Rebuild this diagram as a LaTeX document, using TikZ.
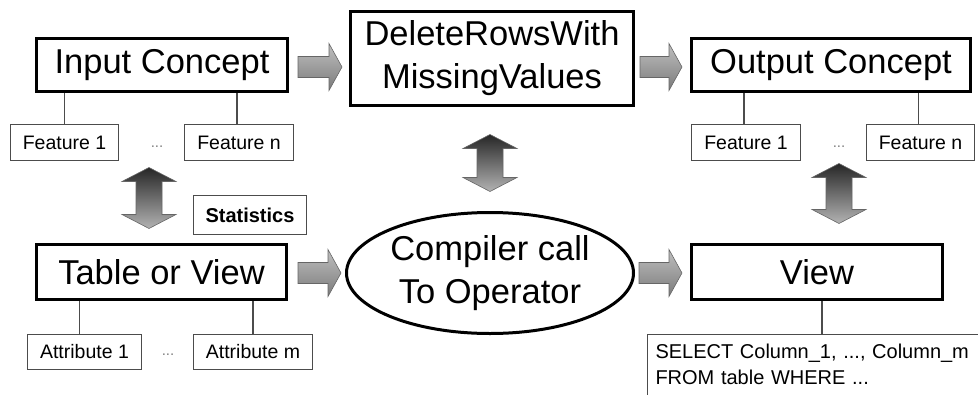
\documentclass[tikz,border=0pt]{standalone}
\usepackage{fontspec}
\setmainfont{Liberation Sans}
\usetikzlibrary{calc,shapes.geometric}

% grey block arrows, built between two points taken from the nodes
\newcommand{\hblock}[2]{%
  \path[hshade] let \p1=#1, \p2=#2 in
    (\x1,\y1+10.5pt) -- (\x2-13pt,\y1+10.5pt) -- (\x2-13pt,\y1+23.5pt) -- (\x2,\y1)
    -- (\x2-13pt,\y1-23.5pt) -- (\x2-13pt,\y1-10.5pt) -- (\x1,\y1-10.5pt) -- cycle;}
\newcommand{\vblock}[2]{%
  \path[vshade] let \p1=#1, \p2=#2 in
    (\x1,\y1) -- (\x1+27pt,\y1-14pt) -- (\x1+13pt,\y1-14pt) -- (\x1+13pt,\y2+14pt)
    -- (\x1+27pt,\y2+14pt) -- (\x1,\y2) -- (\x1-27pt,\y2+14pt) -- (\x1-13pt,\y2+14pt)
    -- (\x1-13pt,\y1-14pt) -- (\x1-27pt,\y1-14pt) -- cycle;}

\begin{document}
\begin{tikzpicture}[x=1pt,y=-1pt,line join=miter,
  bigbox/.style={draw,line width=3pt,inner sep=0pt,align=center,
    font=\fontsize{34.5}{43}\selectfont},
  smallbox/.style={draw=black!70,line width=1pt,inner sep=0pt,minimum height=36,
    font=\fontsize{19.5}{24}\selectfont},
  dots/.style={text=black!50,inner sep=0pt,font=\fontsize{15}{18}\selectfont},
  link/.style={draw=black!70,line width=1.2pt},
  hshade/.style={draw=black!60,line width=0.6pt,top color=black!25,bottom color=black!52},
  vshade/.style={draw=black!60,line width=0.6pt,top color=black!85,bottom color=black!30}]
\useasboundingbox (0,0) rectangle (978,394);
\clip (0,0) rectangle (978,394);

% main boxes
\node[bigbox,minimum width=251,minimum height=53] (inc) at (162,65) {Input Concept};
\node[bigbox,minimum width=283,minimum height=94] (del) at (492,58.5) {DeleteRowsWith\\MissingValues};
\node[bigbox,minimum width=279,minimum height=53] (outc) at (831,65) {Output Concept};
\node[bigbox,minimum width=250,minimum height=55] (tab) at (161.5,272) {Table or View};
\node[bigbox,ellipse,minimum width=287,minimum height=121] (ell) at (490,273) {Compiler call\\To Operator};
\node[bigbox,minimum width=251,minimum height=55] (view) at (817,272) {View};

% small boxes
\node[smallbox,minimum width=108] (fa1) at (64.5,142.5) {Feature 1};
\node[smallbox,minimum width=109] (fan) at (239,142.5) {Feature n};
\node[dots] (dotsa) at (157,147) {...};
\node[smallbox,minimum width=109] (fb1) at (746,142.5) {Feature 1};
\node[smallbox,minimum width=108] (fbn) at (920.5,142.5) {Feature n};
\node[dots] (dotsb) at (839,147) {...};
\node[smallbox,minimum width=114,minimum height=35] (at1) at (84.5,352) {Attribute 1};
\node[smallbox,minimum width=119,minimum height=35] (atm) at (253,352) {Attribute m};
\node[dots] (dotsc) at (168,355) {...};
\node[smallbox,minimum width=113,minimum height=39,font=\fontsize{20}{24}\selectfont\bfseries] (stat) at (250,215) {Statistics};
\node[smallbox,anchor=north west,text width=330,align=left,inner xsep=8,inner ysep=10,
  font=\fontsize{20}{26}\selectfont] (sql) at (647,334)
  {SELECT Column\_1, ..., Column\_m\\FROM table WHERE ...};

% links
\draw[link] (fa1.north) -- (fa1.north |- inc.south);
\draw[link] ($(fan.north)+(-2,0)$) -- ($(fan.north |- inc.south)+(-2,0)$);
\draw[link] ($(fb1.north)+(-2,0)$) -- ($(fb1.north |- outc.south)+(-2,0)$);
\draw[link] ($(fbn.north)+(-2,0)$) -- ($(fbn.north |- outc.south)+(-2,0)$);
\draw[link] ($(at1.north)+(-5,0)$) -- ($(at1.north |- tab.south)+(-5,0)$);
\draw[link] (atm.north) -- (atm.north |- tab.south);
\draw[link] ($(view.south)+(5,0)$) -- ($(view.south |- sql.north)+(5,0)$);

% block arrows
\hblock{($(inc.east)+(9,2)$)}{($(del.west |- inc.east)+(-7,2)$)}
\hblock{($(del.east |- outc.west)+(5,2)$)}{($(outc.west)+(-8,2)$)}
\hblock{($(tab.east)+(10,1)$)}{($(ell.west |- tab.east)+(-4,1)$)}
\hblock{($(ell.east |- view.west)+(4,1)$)}{($(view.west)+(-8,1)$)}
\vblock{($(dotsa |- fa1.south)+(-8,6.5)$)}{($(dotsa |- tab.north)+(-8,-14.5)$)}
\vblock{($(ell.north |- del.south)+(0,27.5)$)}{($(ell.north)+(0,-19.5)$)}
\vblock{($(dotsb |- fb1.south)+(0,2.5)$)}{($(dotsb |- view.north)+(0,-19.5)$)}
\end{tikzpicture}
\end{document}
